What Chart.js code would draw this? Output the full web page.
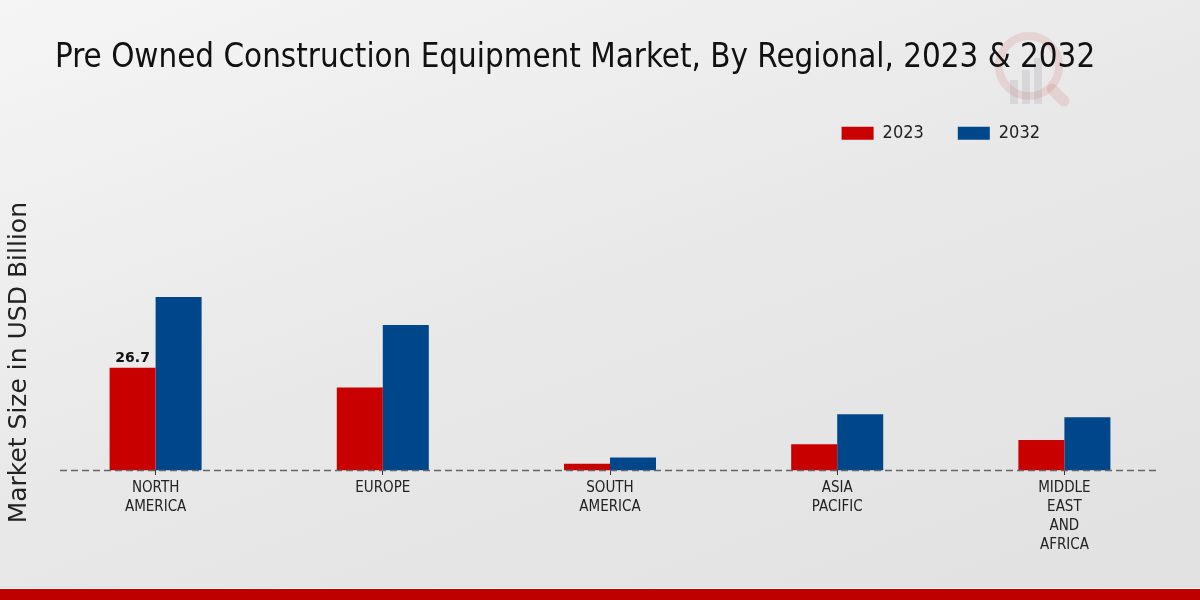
<!DOCTYPE html>
<html>
<head>
<meta charset="utf-8">
<script src="https://cdn.jsdelivr.net/npm/chart.js@4.4.1/dist/chart.umd.min.js"></script>
<style>
    html, body { margin: 0; padding: 0; }
    body {
        width: 1200px; height: 600px; overflow: hidden; position: relative;
        background: linear-gradient(160deg, #f5f5f5 0%, #e8e8e8 50%, #e1e1e1 100%);
    }
    #wrap { position: absolute; left: 0; top: 0; width: 1200px; height: 600px; }
    #footer { position: absolute; left: 0; top: 588px; width: 1200px; height: 11px; background: #bf0000; border-top: 1px solid #fafafa; }
</style>
</head>
<body>
<div id="wrap"><canvas id="chart" width="1200" height="600"></canvas></div>
<div id="footer"></div>
<script>
// data
const regions = [['NORTH', 'AMERICA'], ['EUROPE'], ['SOUTH', 'AMERICA'], ['ASIA', 'PACIFIC'], ['MIDDLE', 'EAST', 'AND', 'AFRICA']];
const seriesNames = ['2023', '2032'];
const values2023 = [26.7, 21.6, 1.7, 6.8, 7.9];
const values2032 = [45.2, 37.9, 3.3, 14.6, 13.8];
const seriesColors = ['#c80000', '#00468b'];
// only this bar carries a value label in the reference
const labelledBars = [{ dataset: 0, index: 0 }];

const titleText = 'Pre Owned Construction Equipment Market, By Regional, 2023 & 2032';
const yTitleText = 'Market Size in USD Billion';

// move title and legend to where the reference has them
const placeBoxes = {
    id: 'placeBoxes',
    afterLayout(chart) {
        chart.titleBlock.left = 55;
        chart.legend.right = 1074;
    }
};

// faint logo in the top right corner
const watermark = {
    id: 'watermark',
    beforeDraw(chart) {
        const ctx = chart.ctx;
        ctx.save();
        ctx.strokeStyle = 'rgba(205, 90, 90, 0.16)';
        ctx.lineWidth = 8;
        ctx.beginPath();
        ctx.arc(1029, 66, 30, 0, Math.PI * 2);
        ctx.stroke();
        ctx.lineWidth = 11;
        ctx.lineCap = 'round';
        ctx.beginPath();
        ctx.moveTo(1052, 89);
        ctx.lineTo(1064, 101);
        ctx.stroke();
        ctx.fillStyle = 'rgba(150, 150, 160, 0.22)';
        ctx.fillRect(1010, 80, 8, 24);
        ctx.fillRect(1022, 70, 8, 34);
        ctx.fillRect(1034, 58, 8, 46);
        ctx.restore();
    }
};

// dashed baseline at value 0, a little shorter than the plot area
const baseline = {
    id: 'baseline',
    afterDatasetsDraw(chart) {
        const ctx = chart.ctx;
        const area = chart.chartArea;
        const y = Math.round(chart.scales.y.getPixelForValue(0)) + 0.5;
        ctx.save();
        ctx.strokeStyle = '#666';
        ctx.lineWidth = 1.3;
        ctx.setLineDash([7, 4]);
        ctx.beginPath();
        ctx.moveTo(area.left + 18, y);
        ctx.lineTo(area.right - 19, y);
        ctx.stroke();
        ctx.restore();
    }
};

const valueLabels = {
    id: 'valueLabels',
    afterDatasetsDraw(chart) {
        const ctx = chart.ctx;
        ctx.save();
        ctx.font = 'bold 14px "DejaVu Sans"';
        ctx.fillStyle = '#111';
        ctx.textAlign = 'center';
        ctx.textBaseline = 'bottom';
        labelledBars.forEach(item => {
            const bar = chart.getDatasetMeta(item.dataset).data[item.index];
            const value = chart.data.datasets[item.dataset].data[item.index];
            ctx.fillText(value.toFixed(1), bar.x, bar.y - 2);
        });
        ctx.restore();
    }
};

const ctx = document.getElementById('chart').getContext('2d');
new Chart(ctx, {
    type: 'bar',
    data: {
        labels: regions,
        datasets: [
            { label: seriesNames[0], data: values2023, backgroundColor: seriesColors[0] },
            { label: seriesNames[1], data: values2032, backgroundColor: seriesColors[1] }
        ]
    },
    options: {
        responsive: false,
        animation: false,
        devicePixelRatio: 1,
        layout: { padding: { top: 10, left: 4, right: 22, bottom: 27 } },
        datasets: {
            bar: { categoryPercentage: 0.405, barPercentage: 1, borderWidth: 0 }
        },
        scales: {
            x: {
                axis: 'x',
                position: { y: 0 },
                offset: true,
                grid: { display: true, offset: false, drawOnChartArea: false, drawTicks: true, tickLength: 5, color: '#333' },
                border: { display: false },
                ticks: {
                    color: '#222',
                    padding: 3,
                    maxRotation: 0,
                    autoSkip: false,
                    font: { family: '"DejaVu Sans Condensed", "DejaVu Sans"', size: 15, lineHeight: 1.27 }
                }
            },
            y: {
                min: -26.8,
                max: 82.9,
                grid: { display: false, drawTicks: false },
                border: { display: false },
                ticks: { display: false },
                title: {
                    display: true,
                    text: yTitleText,
                    color: '#222',
                    padding: { top: 0, bottom: 8 },
                    font: { family: '"DejaVu Sans"', size: 25, lineHeight: 1.2 }
                }
            }
        },
        plugins: {
            title: {
                display: true,
                text: titleText,
                align: 'start',
                color: '#111',
                padding: { top: 29, bottom: 12 },
                font: { family: '"DejaVu Sans Condensed", "DejaVu Sans"', size: 32.8, weight: 'normal', lineHeight: 1.2 }
            },
            legend: {
                display: true,
                position: 'top',
                align: 'end',
                labels: {
                    boxWidth: 32,
                    boxHeight: 13,
                    padding: 34,
                    color: '#222',
                    font: { family: '"DejaVu Sans Condensed", "DejaVu Sans"', size: 18 }
                }
            },
            tooltip: { enabled: false }
        }
    },
    plugins: [placeBoxes, watermark, baseline, valueLabels]
});
</script>
</body>
</html>
